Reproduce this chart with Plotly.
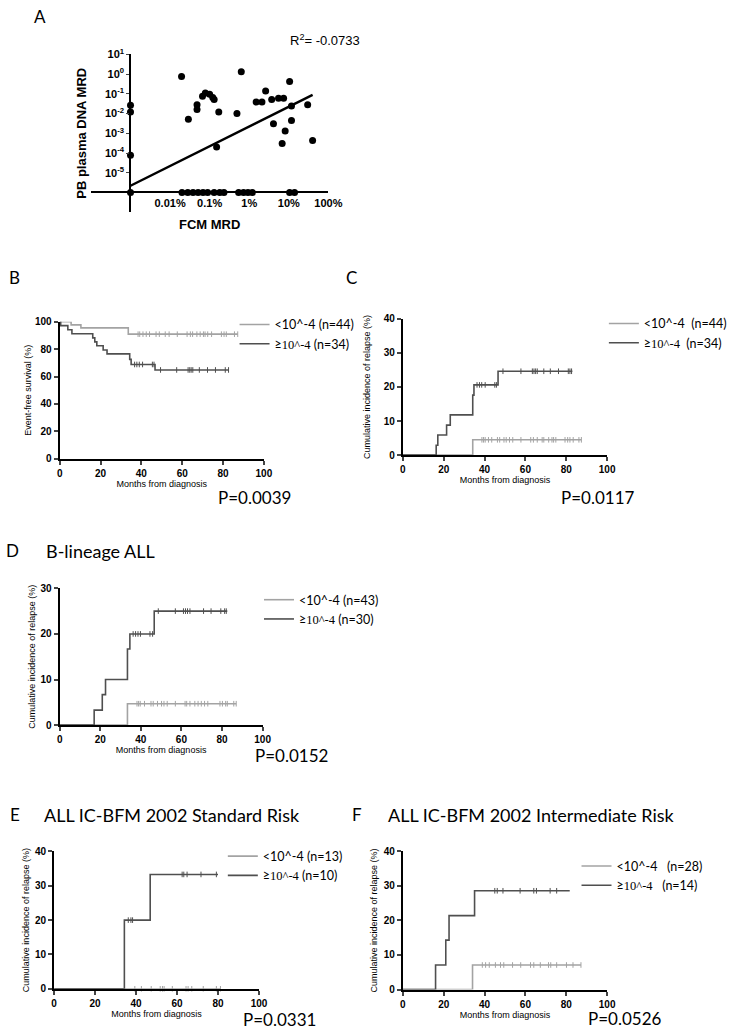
import numpy as np
import plotly.graph_objects as go

W, H = 740, 1033


def fx(px):
    return px / W


def fy(py):
    return 1 - py / H


# ---------------- Panel A data ----------------
# FCM MRD (%) ; 0 = undetectable
FCM_MRD_PCT = [0, 0, 0, 0,
               0.0195, 0.029, 0.048, 0.048, 0.066, 0.078, 0.10, 0.12, 0.13, 0.17, 0.15,
               0.49, 0.63, 1.5, 2.1, 2.6, 3.7, 5.5, 7.4, 4.1, 8.1, 6.8, 10.5, 11.7, 11.7,
               30, 40,
               0.020, 0.028, 0.038, 0.051, 0.068, 0.089, 0.13, 0.18, 0.23, 0.54, 0.72,
               0.93, 1.2, 10.5, 14]
# PB plasma DNA MRD ; 0 = undetectable
PLASMA_DNA_MRD = [0.026, 0.012, 7.6e-5, 0,
                  0.76, 0.0052, 0.028, 0.016, 0.076, 0.11, 0.095, 0.066, 0.052, 0.012, 0.0002,
                  0.010, 1.3, 0.038, 0.038, 0.14, 0.052, 0.060, 0.060, 0.0030, 0.0013, 0.0003,
                  0.42, 0.024, 0.0045, 0.028, 0.00043,
                  0, 0, 0, 0, 0, 0, 0, 0, 0, 0, 0, 0, 0, 0, 0]
FIT_SLOPE = 1.0          # log10(DNA MRD) vs log10(FCM MRD)
FIT_INTERCEPT = -2.66
R2_TEXT = "R<sup>2</sup>= -0.0733"
X_TICK_VALS_A = [-2, -1, 0, 1, 2]
X_TICK_TEXT_A = ["0.01%", "0.1%", "1%", "10%", "100%"]
Y_TICK_VALS_A = [-5, -4, -3, -2, -1, 0, 1]
Y_TICK_TEXT_A = ["10<sup>%d</sup>" % v for v in Y_TICK_VALS_A]
ZERO_LOG_X = -3   # where undetectable FCM values sit on the broken log axis
ZERO_LOG_Y = -6   # where undetectable DNA values sit

# ---------------- Kaplan-Meier data ----------------
# B: event-free survival
B_LOW_T = [0, 5.6, 10.4, 33.6]
B_LOW_S = [100, 97.7, 95.5, 90.9]
B_LOW_END = 87.2
B_LOW_CENS = [38.4, 39.2, 40.8, 42.4, 44, 47.2, 48.8, 51.7, 53.6, 57.6, 62.4, 64, 65.1,
              67.2, 68.8, 70.4, 71.2, 72.5, 74.4, 79.2, 80.5, 81.6, 85.6, 87.2]
B_HIGH_T = [0, 0.5, 4, 6, 16.2, 17.2, 18.2, 21.3, 23.2, 34.3, 35.0, 46.7]
B_HIGH_S = [100, 97.1, 94.1, 91.2, 88.2, 85.3, 82.4, 79.4, 76.5, 72.5, 68.8, 64.8]
B_HIGH_END = 82.7
B_HIGH_CENS = [36.7, 37.8, 39, 40.6, 45.4, 46.2, 49.4, 57.3, 62.9, 63.7, 64.4, 65.2,
               68.4, 72.4, 76.3, 81.1, 82.7]

# C: cumulative incidence of relapse, all patients
C_LOW_T = [0, 34.2]
C_LOW_S = [0, 4.5]
C_LOW_END = 87.4
C_LOW_CENS = [38.7, 39.5, 40.3, 41.9, 43.5, 46.3, 47.4, 49.5, 50.6, 52.2, 53.8, 57.8, 62.6,
              63.9, 65.8, 68.2, 69, 71.4, 73, 73.8, 74.9, 79.4, 80.7, 81.8, 83.4, 86.2, 87.4]
C_HIGH_T = [0, 16.3, 17.1, 21.4, 23.2, 34.2, 34.8, 46.6]
C_HIGH_S = [0, 2.9, 5.9, 8.8, 11.8, 17.6, 20.6, 24.6]
C_HIGH_END = 83
C_HIGH_CENS = [36.3, 37.5, 38.6, 40.3, 45, 45.8, 49, 57.8, 63.4, 64.2, 65, 65.8, 69, 72.2,
               76.2, 81, 81.8, 82.6]

# D: B-lineage ALL
D_LOW_T = [0, 33.4]
D_LOW_S = [0, 4.7]
D_LOW_END = 87
D_LOW_CENS = [38.1, 38.9, 39.7, 41.8, 45, 46.1, 48.2, 50.2, 51.4, 53, 57, 61.8, 62.6, 64.2,
              66.6, 68.2, 69.8, 71.4, 73, 79, 80.2, 81.8, 82.6, 85.8, 87]
D_HIGH_T = [0, 17, 21, 22.6, 33.4, 34.6, 46.6]
D_HIGH_S = [0, 3.3, 6.7, 10, 16.7, 20, 25]
D_HIGH_END = 82.6
D_HIGH_CENS = [36.2, 37.4, 38.6, 39.8, 44.5, 45.8, 48.6, 57, 61, 62, 63, 64.2, 70.9, 74.6,
               79.4, 81.3, 82.1]

# E: Standard risk
E_LOW_T = [0]
E_LOW_S = [0]
E_LOW_END = 81.2
E_LOW_CENS = [39.4, 42.6, 47.4, 51.8, 52.9, 53.7, 57.7, 64.4, 65.4, 67.2, 72.8, 79.2, 81.2]
E_HIGH_T = [0, 34.3, 46.9]
E_HIGH_S = [0, 20, 33.3]
E_HIGH_END = 80
E_HIGH_CENS = [36.2, 37.5, 38.3, 62.5, 63.3, 64.9, 71.7, 79.2]

# F: Intermediate risk
F_LOW_T = [0, 34.1]
F_LOW_S = [0, 7.1]
F_LOW_END = 87.2
F_LOW_CENS = [38.9, 40.5, 42.3, 45.3, 47.8, 49.4, 53.7, 57.7, 62.5, 64.1, 67.3, 71.3, 72.4,
              75.3, 80.1, 83.3, 87.2]
F_HIGH_T = [0, 16, 21, 22.6, 35.1]
F_HIGH_S = [0, 7.1, 14.3, 21.4, 28.6]
F_HIGH_END = 81.7
F_HIGH_CENS = [45, 46.2, 49, 57.4, 64.1, 65.4, 72.1, 75.3]

N_B = (44, 34)
N_C = (44, 34)
N_D = (43, 30)
N_E = (13, 10)
N_F = (28, 14)

LIGHT = "#a3a3a3"
DARK = "#4f4f4f"
ARIAL = "Liberation Sans"
CALIBRI = "Lato"
SERIF = "Liberation Serif"

fig = go.Figure()

# ---------------- Panel A ----------------
lx = np.array([np.log10(v) if v > 0 else ZERO_LOG_X for v in FCM_MRD_PCT])
ly = np.array([np.log10(v) if v > 0 else ZERO_LOG_Y for v in PLASMA_DNA_MRD])
fig.add_trace(go.Scatter(x=lx, y=ly, mode="markers", xaxis="x", yaxis="y",
                         marker=dict(color="black", size=7), showlegend=False,
                         cliponaxis=False))
fit_x = np.array([lx.min(), lx.max()])
fig.add_trace(go.Scatter(x=fit_x, y=FIT_SLOPE * fit_x + FIT_INTERCEPT, mode="lines",
                         xaxis="x", yaxis="y", line=dict(color="black", width=2.5),
                         showlegend=False))


def step_at(T, S, t):
    i = np.searchsorted(np.array(T), t, side="right") - 1
    return S[i]


def add_km(n, legend, T, S, end, cens, color, name):
    ax = "x%d" % n
    ay = "y%d" % n
    fig.add_trace(go.Scatter(x=list(T) + [end], y=list(S) + [S[-1]], mode="lines",
                             line=dict(shape="hv", color=color, width=1.6),
                             xaxis=ax, yaxis=ay, name=name, legend=legend,
                             cliponaxis=False))
    fig.add_trace(go.Scatter(x=cens, y=[step_at(T, S, c) for c in cens], mode="markers",
                             marker=dict(symbol="line-ns", size=4,
                                         line=dict(width=1, color=color)),
                             xaxis=ax, yaxis=ay, showlegend=False, legend=legend,
                             cliponaxis=False))


def names(nn, gap=" "):
    low = "&lt;10^-4%s(n=%d)" % (gap, nn[0])
    high = "≥<span style='font-family:%s'>10^-4</span>%s(n=%d)" % (SERIF, gap, nn[1])
    return low, high


panels = [
    (2, "legend", (B_LOW_T, B_LOW_S, B_LOW_END, B_LOW_CENS),
     (B_HIGH_T, B_HIGH_S, B_HIGH_END, B_HIGH_CENS), names(N_B, " ")),
    (3, "legend2", (C_LOW_T, C_LOW_S, C_LOW_END, C_LOW_CENS),
     (C_HIGH_T, C_HIGH_S, C_HIGH_END, C_HIGH_CENS), names(N_C, "  ")),
    (4, "legend3", (D_LOW_T, D_LOW_S, D_LOW_END, D_LOW_CENS),
     (D_HIGH_T, D_HIGH_S, D_HIGH_END, D_HIGH_CENS), names(N_D, " ")),
    (5, "legend4", (E_LOW_T, E_LOW_S, E_LOW_END, E_LOW_CENS),
     (E_HIGH_T, E_HIGH_S, E_HIGH_END, E_HIGH_CENS), names(N_E, " ")),
    (6, "legend5", (F_LOW_T, F_LOW_S, F_LOW_END, F_LOW_CENS),
     (F_HIGH_T, F_HIGH_S, F_HIGH_END, F_HIGH_CENS), names(N_F, "   ")),
]
for n, lg, low, high, nm in panels:
    add_km(n, lg, *low, LIGHT, nm[0])
    add_km(n, lg, *high, DARK, nm[1])

# ---------------- Layout ----------------
layout = dict(
    width=W, height=H, margin=dict(l=0, r=0, t=0, b=0),
    paper_bgcolor="white", plot_bgcolor="rgba(0,0,0,0)",
    font=dict(family=ARIAL, color="black"),
    xaxis=dict(domain=[fx(90), fx(333)], range=[-4, 2], anchor="free", position=fy(187),
               showline=True, linecolor="black", linewidth=1.5, ticks="",
               tickvals=X_TICK_VALS_A, ticktext=X_TICK_TEXT_A, showgrid=False,
               zeroline=False, ticklabelstandoff=1,
               tickfont=dict(family=ARIAL, size=11, color="black", weight="bold"),
               title=dict(text="FCM MRD", standoff=10,
                          font=dict(family=ARIAL, size=13, weight="bold"))),
    yaxis=dict(domain=[fy(207), fy(47)], range=[-7, 1], anchor="free", position=fx(130),
               showline=True, linecolor="black", linewidth=1.5, ticks="outside",
               ticklen=3, tickwidth=1.2, tickvals=Y_TICK_VALS_A, ticktext=Y_TICK_TEXT_A,
               showgrid=False, zeroline=False,
               tickfont=dict(family=ARIAL, size=11, color="black", weight="bold"),
               title=dict(text="PB plasma DNA MRD", standoff=14,
                          font=dict(family=ARIAL, size=13, weight="bold"))),
)

KM_GEOM = {
    # n: (x0, x1, ytop, ybottom, ymax, dtick, ytitle, standoff)
    2: (58, 267, 318, 457, 100, 20, "Event-free survival (%)", 2),
    3: (409.3, 618.3, 315, 453.3, 40, 10, "Cumulative incidence of relapse (%)", 12),
    4: (58, 265.7, 588.3, 727, 30, 10, "Cumulative incidence of relapse (%)", 3),
    5: (52.3, 262, 855, 994.3, 40, 10, "Cumulative incidence of relapse (%)", 4),
    6: (409.3, 618.3, 855, 995, 40, 10, "Cumulative incidence of relapse (%)", 5),
}
for n, (x0, x1, yt, yb, ymax, dt, yt_text, so) in KM_GEOM.items():
    layout["xaxis%d" % n] = dict(
        domain=[fx(x0), fx(x1)], range=[0, 100], anchor="y%d" % n, dtick=20, tick0=0,
        showline=True, linecolor="black", linewidth=2, ticks="outside", ticklen=4,
        tickwidth=1.5, showgrid=False, zeroline=False,
        tickfont=dict(family=ARIAL, size=10, color="black", weight="bold"),
        title=dict(text="Months from diagnosis", standoff=2,
                   font=dict(family=ARIAL, size=9)))
    layout["yaxis%d" % n] = dict(
        domain=[fy(yb), fy(yt)], range=[0, ymax], anchor="x%d" % n, dtick=dt, tick0=0,
        showline=True, linecolor="black", linewidth=2, ticks="outside", ticklen=4,
        tickwidth=1.5, showgrid=False, zeroline=False,
        tickfont=dict(family=ARIAL, size=10, color="black", weight="bold"),
        title=dict(text=yt_text, standoff=so, font=dict(family=ARIAL, size=9)))

# legend: (text start x, top y)
LEGEND_POS = {"legend": (277, 306), "legend2": (655, 305), "legend3": (302, 585),
              "legend4": (265, 845), "legend5": (627, 855)}
for lg, (tx, top) in LEGEND_POS.items():
    layout[lg] = dict(x=fx(tx - 40), y=fy(top), xanchor="left", yanchor="top",
                      bgcolor="rgba(0,0,0,0)", borderwidth=0, tracegroupgap=0,
                      font=dict(family=CALIBRI, size=12.5, color="black"),
                      itemwidth=30)

fig.update_layout(**layout)

# ---------------- Annotations ----------------
ann = [
    ("A", 38, 9, "center", 17, CALIBRI),
    ("B", 12, 273, "center", 17, CALIBRI),
    ("C", 357, 273, "center", 17, CALIBRI),
    ("D", 10, 550, "center", 17, CALIBRI),
    ("E", 12, 818, "center", 17, CALIBRI),
    ("F", 362, 818, "center", 17, CALIBRI),
    ("B-lineage ALL", 42, 550, "left", 18, CALIBRI),
    ("ALL IC-BFM 2002 Standard Risk", 40, 818, "left", 18, CALIBRI),
    ("ALL IC-BFM 2002 Intermediate Risk", 392, 818, "left", 18, CALIBRI),
    ("P=0.0039", 257, 496, "center", 17, CALIBRI),
    ("P=0.0117", 609, 496, "center", 17, CALIBRI),
    ("P=0.0152", 295, 758, "center", 17, CALIBRI),
    ("P=0.0331", 283, 1025, "center", 17, CALIBRI),
    ("P=0.0526", 637, 1024, "center", 17, CALIBRI),
    (R2_TEXT, 292, 32, "left", 13, ARIAL),
]
for text, x, y, xa, size, fam in ann:
    fig.add_annotation(text=text, x=fx(x), y=fy(y), xref="paper", yref="paper",
                       xanchor=xa, yanchor="middle", showarrow=False,
                       font=dict(family=fam, size=size, color="black"))

fig.write_html("out.html", config={"displayModeBar": False},
               post_script="document.body.style.margin='0';"
                           "document.body.style.overflow='hidden';")
